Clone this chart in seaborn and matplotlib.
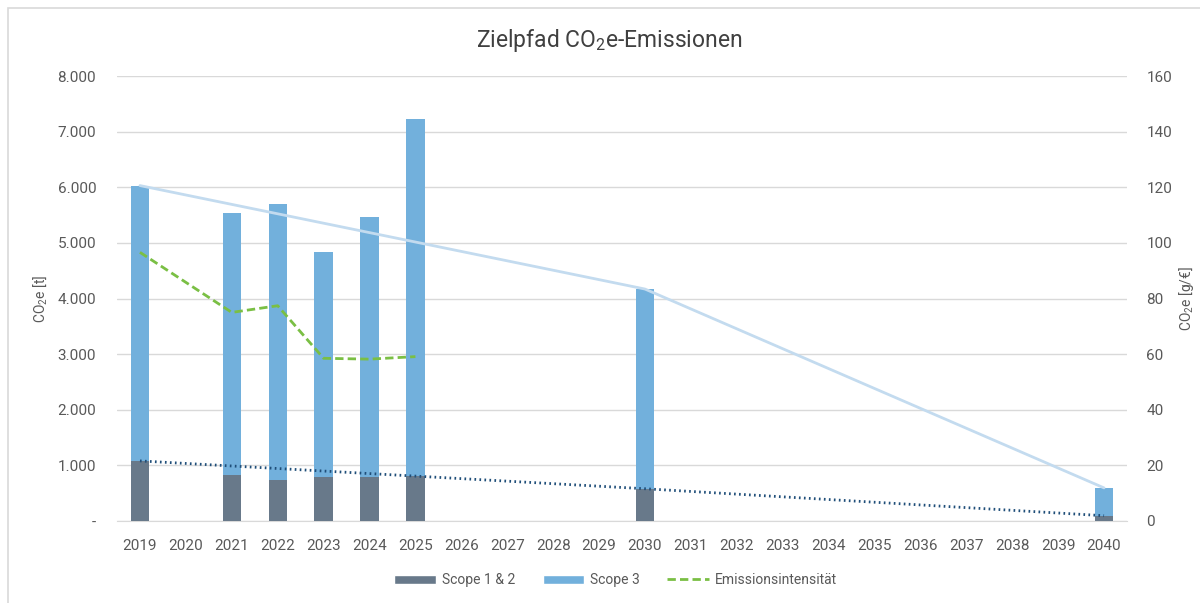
import numpy as np
import pandas as pd
import matplotlib
matplotlib.use("Agg")
import matplotlib.pyplot as plt
from matplotlib.patches import Patch, Rectangle
from matplotlib.lines import Line2D
from matplotlib.ticker import FuncFormatter
import seaborn as sns

# data
years = list(range(2019, 2041))
bar_years = [2019, 2021, 2022, 2023, 2024, 2025, 2030, 2040]
scope12 = [1075, 830, 730, 795, 790, 805, 575, 95]
scope3 = [4955, 4710, 4970, 4045, 4680, 6425, 3595, 500]

target_years = [2019, 2030, 2040]
target_total = [6030, 4170, 595]
target_scope12 = [1080, 580, 95]

intensity_years = [2019, 2021, 2022, 2023, 2024, 2025]
intensity = [96.6, 75.0, 77.4, 58.5, 58.2, 59.1]

c_s12 = "#68798a"
c_s3 = "#72b0dc"
c_target = "#c3dbef"
c_dot = "#1f4e79"
c_green = "#7abf44"
c_text = "#595959"
c_grid = "#d9d9d9"

sns.set_style("white")
plt.rcParams["font.family"] = ["Roboto", "DejaVu Sans"]
plt.rcParams["mathtext.default"] = "regular"

df = pd.DataFrame({"year": [str(y) for y in years]})
df["scope12"] = df["year"].map(dict(zip([str(y) for y in bar_years], scope12)))
df["scope3"] = df["year"].map(dict(zip([str(y) for y in bar_years], scope3)))
df["total"] = df["scope12"] + df["scope3"]
order = [str(y) for y in years]

fig = plt.figure(figsize=(12, 6.03), dpi=100)
ax = fig.add_axes([117 / 1200, 1 - 521 / 603, 1010 / 1200, 445 / 603])

sns.barplot(data=df, x="year", y="total", order=order, color=c_s3,
            width=0.4, saturation=1, linewidth=0, ax=ax, zorder=2)
sns.barplot(data=df, x="year", y="scope12", order=order, color=c_s12,
            width=0.4, saturation=1, linewidth=0, ax=ax, zorder=3)

# target paths
pos_t = [years.index(y) for y in target_years]
sns.lineplot(x=pos_t, y=target_total, color=c_target, linewidth=2, ax=ax, zorder=4)
sns.lineplot(x=pos_t, y=target_scope12, color=c_dot, linewidth=2,
             linestyle=(0, (0.6, 1.2)), ax=ax, zorder=4)

ax.set_ylim(0, 8000)
ax.set_xlim(-0.5, len(years) - 0.5)
ax.set_yticks(range(0, 8001, 1000))
ax.yaxis.set_major_formatter(FuncFormatter(
    lambda v, p: "-" if v == 0 else f"{int(v):,}".replace(",", ".")))
ax.grid(axis="y", color=c_grid, linewidth=1, zorder=0)
ax.set_axisbelow(True)
for s in ["top", "right", "left"]:
    ax.spines[s].set_visible(False)
ax.spines["bottom"].set_color(c_grid)
ax.tick_params(axis="y", length=0, pad=15, labelsize=11, labelcolor=c_text)
ax.tick_params(axis="x", length=0, pad=13, labelsize=11, labelcolor=c_text)
ax.set_xlabel("")
ax.set_ylabel("CO$_2$e [t]", fontsize=10, color=c_text, va="center")
ax.yaxis.set_label_coords(-0.076, 0.5)

# intensity on right axis
ax2 = ax.twinx()
pos_i = [years.index(y) for y in intensity_years]
sns.lineplot(x=pos_i, y=intensity, color=c_green, linewidth=2,
             linestyle=(0, (3, 1.5)), ax=ax2)
ax2.set_ylim(0, 160)
ax2.set_yticks(range(0, 161, 20))
for s in ["top", "right", "left", "bottom"]:
    ax2.spines[s].set_visible(False)
ax2.tick_params(axis="y", length=0, pad=14, labelsize=11, labelcolor=c_text)
ax2.set_ylabel("CO$_2$e [g/€]", fontsize=10, color=c_text,
               rotation=90, va="center")
ax2.yaxis.set_label_coords(1.059, 0.5)

fig.text(0.508, 1 - 40 / 603, "Zielpfad CO$_2$e-Emissionen",
         ha="center", va="center", fontsize=16.5, color="#404040")

handles = [
    Patch(facecolor=c_s12, label="Scope 1 & 2"),
    Patch(facecolor=c_s3, label="Scope 3"),
    Line2D([], [], color=c_green, linewidth=2, linestyle=(0, (3, 1.5)),
           label="Emissionsintensität"),
]
fig.legend(handles=handles, loc="center", bbox_to_anchor=(0.513, 1 - 580 / 603),
           ncol=3, frameon=False, fontsize=10, handlelength=3,
           handleheight=0.6, handletextpad=0.4, columnspacing=2.0,
           labelcolor=c_text)

# outer frame
fig.patches.append(Rectangle((8 / 1200, -0.1), 1.2, 1.1 - 8 / 603,
                             transform=fig.transFigure, fill=False,
                             edgecolor=c_grid, linewidth=1.2))

fig.savefig("out.png", dpi=100)
